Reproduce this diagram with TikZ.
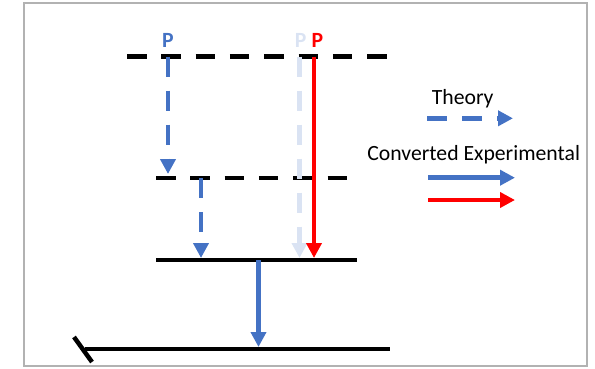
\documentclass[tikz,border=0pt]{standalone}
\usepackage{fontspec}
\setmainfont{Carlito}
\usetikzlibrary{arrows.meta}
\definecolor{tblue}{HTML}{4472C4}
\definecolor{pale}{HTML}{DAE3F3}
\definecolor{tred}{HTML}{FF0000}
\begin{document}
\begin{tikzpicture}[x=1pt,y=-1pt,
  level/.style={line width=4.5pt, black},
  dlevel/.style={level, dash pattern=on 19.5pt off 14.8pt},
  arr/.style={line width=4.5pt, -{Triangle[length=15pt,width=15pt]}},
  darr/.style={arr, dash pattern=on 20pt off 14pt},
  lbl/.style={font=\fontsize{21.7}{24}\selectfont, inner sep=0pt, anchor=base},
  plbl/.style={font=\bfseries\fontsize{21.7}{24}\selectfont, inner sep=0pt, anchor=base}]
\useasboundingbox (0,0) rectangle (595,368);
\draw[black!30, line width=1.2pt] (24,3) rectangle (587,366);
% level coordinates
\coordinate (t1) at (127,56.5); \coordinate (t2) at (387,56.5);
\coordinate (m1) at (156,178); \coordinate (m2) at (347,178);
\coordinate (s1) at (156,260); \coordinate (s2) at (357,260);
\coordinate (b1) at (85,349); \coordinate (b2) at (390,349);
\coordinate (k1) at (74,337); \coordinate (k2) at (92,362);
% levels
\draw[dlevel] (t1) -- (t2);
\draw[dlevel] (m1) -- (m2);
\draw[level] (s1) -- (s2);
\draw[level] (b1) -- (b2);
\draw[level] (k1) -- (k2);
% labels
\node[plbl, text=tblue] (pb) at (168,47) {P};
\node[plbl, text=pale] (pp) at (300.7,47) {P};
\node[plbl, text=tred] (pr) at (317.3,47) {P};
% arrow ends
\coordinate (a1s) at (168,56.5); \coordinate (a1e) at (168,174);
\coordinate (a2s) at (201,178); \coordinate (a2e) at (201,258);
\coordinate (a3s) at (299.5,56.5); \coordinate (a3e) at (299.5,258);
\coordinate (a4s) at (314,56.5); \coordinate (a4e) at (314,258);
\coordinate (a5s) at (258.5,260); \coordinate (a5e) at (258.5,347);
% arrows
\draw[darr, pale] (a3s) -- (a3e);
\draw[darr, tblue] (a1s) -- (a1e);
\draw[darr, tblue] (a2s) -- (a2e);
\draw[arr, tred] (a4s) -- (a4e);
\draw[arr, tblue] (a5s) -- (a5e);
% legend
\node[lbl] (theory) at (462.7,104) {Theory};
\node[lbl] (conv) at (473.7,160) {Converted Experimental};
\coordinate (l1s) at (427,118.3); \coordinate (l1e) at (513,118.3);
\coordinate (l2s) at (428,177.7); \coordinate (l2e) at (515,177.7);
\coordinate (l3s) at (428,200); \coordinate (l3e) at (515,200);
\draw[arr, tblue, dash pattern=on 20pt off 15pt] (l1s) -- (l1e);
\draw[arr, tblue] (l2s) -- (l2e);
\draw[arr, tred] (l3s) -- (l3e);
\end{tikzpicture}
\end{document}
